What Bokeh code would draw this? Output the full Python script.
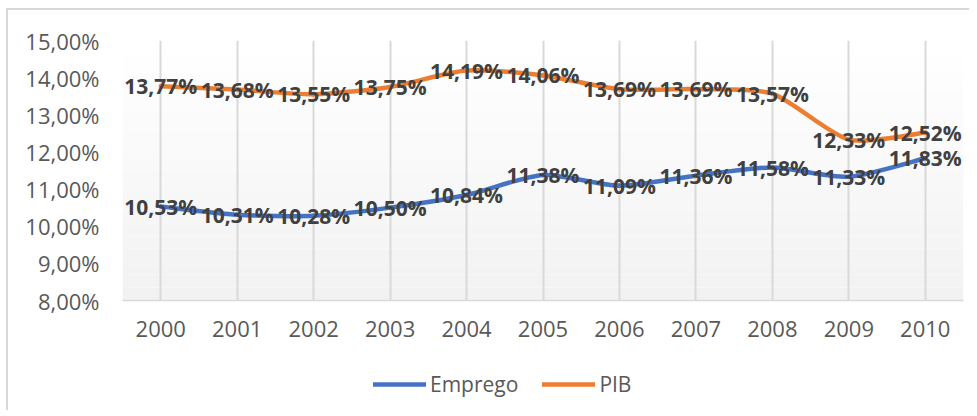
import numpy as np
from bokeh.plotting import figure
from bokeh.layouts import column
from bokeh.models import (Range1d, FixedTicker, BoxAnnotation, Legend, LegendItem, ColumnDataSource)
from bokeh.core.properties import value
from bokeh.embed import file_html
from bokeh.resources import INLINE

# ---- data ----
years = ["2000", "2001", "2002", "2003", "2004", "2005", "2006", "2007", "2008", "2009", "2010"]
emprego = [10.53, 10.31, 10.28, 10.50, 10.84, 11.38, 11.09, 11.36, 11.58, 11.33, 11.83]
pib = [13.77, 13.68, 13.55, 13.75, 14.19, 14.06, 13.69, 13.69, 13.57, 12.33, 12.52]
series_names = ["Emprego", "PIB"]
y_ticks = [8, 9, 10, 11, 12, 13, 14, 15]
y_tick_labels = ["8,00%", "9,00%", "10,00%", "11,00%", "12,00%", "13,00%", "14,00%", "15,00%"]

BLUE = "#4472C4"
ORANGE = "#ED7D31"
LABEL_GRAY = "#595959"
DATA_GRAY = "#404040"
FONT = "Open Sans"

xs = list(range(len(years)))

p = figure(width=961, height=345, output_backend="svg", toolbar_location=None,
           x_range=Range1d(-0.5, len(years) - 0.5), y_range=Range1d(y_ticks[0], y_ticks[-1]),
           min_border_left=114, min_border_right=6, min_border_top=30, min_border_bottom=55)
p.outline_line_color = None
p.background_fill_color = "white"
p.border_fill_color = "white"

# gradient background in plot area (decorative)
nb = 40
edges = np.linspace(y_ticks[0], y_ticks[-1], nb + 1)
for i in range(nb):
    frac = 1 - (i + 0.5) / nb
    g = int(round(255 - 13 * frac))
    p.add_layout(BoxAnnotation(bottom=edges[i], top=edges[i + 1], fill_color=f"#{g:02x}{g:02x}{g:02x}",
                               fill_alpha=1.0, line_alpha=0, level="image"))

# axes
p.xaxis.ticker = FixedTicker(ticks=xs)
p.xaxis.major_label_overrides = {i: y for i, y in enumerate(years)}
p.xaxis.axis_line_color = "#d9d9d9"
p.xaxis.axis_line_width = 1.5
p.xaxis.major_tick_line_color = None
p.xaxis.minor_tick_line_color = None
p.xaxis.major_label_text_font = FONT
p.xaxis.major_label_text_font_size = "22px"
p.xaxis.major_label_text_color = LABEL_GRAY
p.xaxis.major_label_standoff = 14

p.yaxis.ticker = FixedTicker(ticks=y_ticks)
p.yaxis.major_label_overrides = {t: l for t, l in zip(y_ticks, y_tick_labels)}
p.yaxis.axis_line_color = None
p.yaxis.major_tick_line_color = None
p.yaxis.minor_tick_line_color = None
p.yaxis.major_tick_out = 0
p.yaxis.major_label_text_font = FONT
p.yaxis.major_label_text_font_size = "22px"
p.yaxis.major_label_text_color = LABEL_GRAY
p.yaxis.major_label_standoff = 23

p.xgrid.grid_line_color = "#d9d9d9"
p.xgrid.grid_line_width = 2
p.ygrid.grid_line_color = None


def smooth_segments(x, y, t=0.12):
    x = np.asarray(x, float)
    y = np.asarray(y, float)
    n = len(x)
    d = dict(x0=[], y0=[], x1=[], y1=[], cx0=[], cy0=[], cx1=[], cy1=[])
    for i in range(n - 1):
        im = max(i - 1, 0)
        ip2 = min(i + 2, n - 1)
        d["x0"].append(x[i]); d["y0"].append(y[i])
        d["x1"].append(x[i + 1]); d["y1"].append(y[i + 1])
        d["cx0"].append(x[i] + (x[i + 1] - x[im]) * t)
        d["cy0"].append(y[i] + (y[i + 1] - y[im]) * t)
        d["cx1"].append(x[i + 1] - (x[ip2] - x[i]) * t)
        d["cy1"].append(y[i + 1] - (y[ip2] - y[i]) * t)
    return ColumnDataSource(d)


colors = [BLUE, ORANGE]
all_series = [emprego, pib]
for vals, col in zip(all_series, colors):
    p.bezier(x0="x0", y0="y0", x1="x1", y1="y1", cx0="cx0", cy0="cy0", cx1="cx1", cy1="cy1",
             source=smooth_segments(xs, vals), line_color=col, line_width=4.5, line_cap="round")


def fmt(v):
    return f"{v:.2f}".replace(".", ",") + "%"


for vals in all_series:
    p.text(x=xs, y=vals, text=[fmt(v) for v in vals], text_align="center", text_baseline="middle",
           text_font=value(FONT), text_font_style="bold", text_font_size="21px", text_color=DATA_GRAY)

# legend strip below the chart (its lines fall outside this strip's ranges, so only the legend shows)
pl = figure(width=961, height=55, output_backend="svg", toolbar_location=None,
            x_range=Range1d(-100, -99), y_range=Range1d(-100, -99),
            x_axis_location=None, y_axis_location=None,
            min_border_left=0, min_border_right=0, min_border_top=0, min_border_bottom=0)
pl.outline_line_color = None
pl.grid.visible = False
pl.border_fill_color = "white"
pl.background_fill_color = "white"
items = []
for name, vals, col in zip(series_names, all_series, colors):
    r = pl.line(x=xs, y=vals, line_color=col, line_width=4.5, line_cap="round")
    items.append(LegendItem(label=name, renderers=[r]))
legend = Legend(items=items, orientation="horizontal", location=(251, 12),
                glyph_width=53, glyph_height=20, label_standoff=4, spacing=24,
                padding=0, margin=0, border_line_alpha=0, background_fill_alpha=0,
                label_text_font=FONT, label_text_font_size="21px", label_text_color=LABEL_GRAY)
pl.add_layout(legend, "center")

layout = column(p, pl, spacing=0,
                styles={"margin-left": "6px", "margin-top": "8px",
                        "border-left": "2px solid #d9d9d9", "border-top": "2px solid #d9d9d9"})
open("out.html", "w").write(file_html(layout, INLINE))
